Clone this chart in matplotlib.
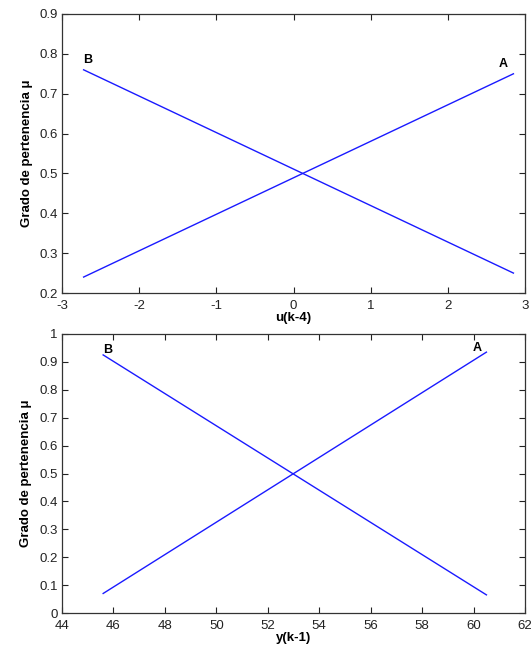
import matplotlib
matplotlib.use("Agg")
import matplotlib.pyplot as plt

plt.rcParams['font.family'] = ['Liberation Sans', 'DejaVu Sans']

# Top panel: u(k-4)
u_x = [-2.72, 2.85]
u_A = [0.24, 0.75]
u_B = [0.76, 0.25]
u_xticks = [-3, -2, -1, 0, 1, 2, 3]
u_yticks = [0.2, 0.3, 0.4, 0.5, 0.6, 0.7, 0.8, 0.9]

# Bottom panel: y(k-1)
y_x = [45.6, 60.5]
y_A = [0.07, 0.935]
y_B = [0.925, 0.065]
y_xticks = [44, 46, 48, 50, 52, 54, 56, 58, 60, 62]
y_yticks = [0, 0.1, 0.2, 0.3, 0.4, 0.5, 0.6, 0.7, 0.8, 0.9, 1]

W, H = 531, 646
fig = plt.figure(figsize=(W / 100, H / 100), dpi=100)

def axes_px(l, t, r, b):
    return fig.add_axes([l / W, 1 - b / H, (r - l) / W, (b - t) / H])

ax1 = axes_px(62, 14, 525, 293)
ax2 = axes_px(62, 334, 525, 613)

def style(ax, xt, yt, xlim, ylim, xlabel):
    ax.set_xlim(*xlim)
    ax.set_ylim(*ylim)
    ax.set_xticks(xt)
    ax.set_yticks(yt)
    ax.set_xticklabels([f"{v:g}" for v in xt])
    ax.set_yticklabels([f"{v:g}" for v in yt])
    ax.tick_params(direction='in', top=True, right=True, length=4, width=0.8,
                   labelsize=9.5, colors='#222222')
    ax.tick_params(axis='x', pad=5)
    ax.tick_params(axis='y', pad=3)
    for s in ax.spines.values():
        s.set_linewidth(0.9)
        s.set_color('#333333')
    ax.set_xlabel(xlabel, fontsize=9.5, fontweight='bold', labelpad=0)
    ax.set_ylabel('Grado de pertenencia μ', fontsize=9.5, fontweight='bold', labelpad=5)

ax1.plot(u_x, u_A, color='#1a1aff', lw=1.0)
ax1.plot(u_x, u_B, color='#1a1aff', lw=1.0)
style(ax1, u_xticks, u_yticks, (-3, 3), (0.2, 0.9), 'u(k-4)')
ax1.text(-2.72, 0.777, 'B', fontsize=9, fontweight='bold', ha='left', va='baseline')
ax1.text(2.78, 0.767, 'A', fontsize=9, fontweight='bold', ha='right', va='baseline')

ax2.plot(y_x, y_A, color='#1a1aff', lw=1.0)
ax2.plot(y_x, y_B, color='#1a1aff', lw=1.0)
style(ax2, y_xticks, y_yticks, (44, 62), (0, 1), 'y(k-1)')
ax2.text(45.6, 0.932, 'B', fontsize=9, fontweight='bold', ha='left', va='baseline')
ax2.text(60.3, 0.94, 'A', fontsize=9, fontweight='bold', ha='right', va='baseline')

fig.savefig('out.png', dpi=100)
